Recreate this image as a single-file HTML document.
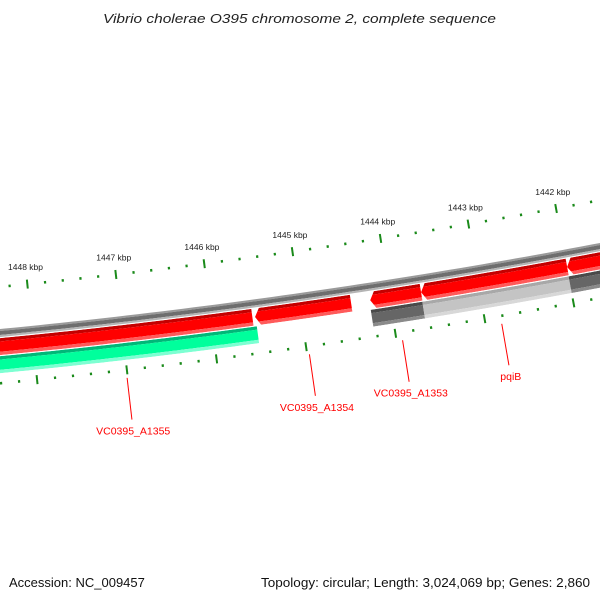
<!DOCTYPE html>
<html><head><meta charset="utf-8"><style>
html,body{margin:0;padding:0;background:#fff;}
svg{display:block;font-family:"Liberation Sans","DejaVu Sans",sans-serif;}
</style></head><body>
<svg id="chart" width="600" height="600" viewBox="0 0 600 600">
<text x="103" y="23" textLength="393" lengthAdjust="spacingAndGlyphs" font-size="13" font-style="italic" fill="#222">Vibrio cholerae O395 chromosome 2, complete sequence</text>
<text x="9" y="587" font-size="13" fill="#111">Accession: NC_009457</text>
<text x="261" y="587" textLength="329" lengthAdjust="spacingAndGlyphs" font-size="13" fill="#111">Topology: circular; Length: 3,024,069 bp; Genes: 2,860</text>
<defs id="defs"></defs>
<g id="plot"></g>
</svg>
<script>
// data (kbp positions)
const majorTicks = [1448, 1447, 1446, 1445, 1444, 1443, 1442];
const tickLabels = ["1448 kbp","1447 kbp","1446 kbp","1445 kbp","1444 kbp","1443 kbp","1442 kbp"];
const geneNames = ["VC0395_A1355","VC0395_A1354","VC0395_A1353","pqiB","next-gene"];
const geneStarts = [1448.47, 1445.515, 1444.22, 1443.647, 1441.997];
const geneEnds = [1445.545, 1444.435, 1443.647, 1441.997, 1441.0];
const geneLabelled = [true, true, true, true, false];
const cdsStarts = [1448.47];
const cdsEnds = [1445.51];
const regionStarts = [1444.23, 1443.65, 1442.0];
const regionEnds = [1443.65, 1442.0, 1441.0];
const regionShade = ["dark", "light", "dark"];

const NS = "http://www.w3.org/2000/svg";
const CX = -640, CY = -6268;
const A0 = 0.1015, AK = 0.01352;
function ang(k){ return A0 + (1448 - k) * AK; }
function pt(r, t){ return [CX + r*Math.sin(t), CY + r*Math.cos(t)]; }
const plot = document.getElementById("plot");
const defs = document.getElementById("defs");
function mk(tag, attrs, parent){
  const e = document.createElementNS(NS, tag);
  for (const k in attrs) e.setAttribute(k, attrs[k]);
  (parent||plot).appendChild(e);
  return e;
}
function arcPts(r, t1, t2, n){
  const a=[]; for(let i=0;i<=n;i++){ const t=t1+(t2-t1)*i/n; a.push(pt(r,t)); } return a;
}
function band(r1, r2, t1, t2){
  const a = arcPts(r1,t1,t2,60).concat(arcPts(r2,t2,t1,60));
  return a.map(p=>p[0].toFixed(2)+","+p[1].toFixed(2)).join(" ");
}
const KMIN = 1441.3, KMAX = 1448.8;

// backbone
[[6628,6630,"#9a9a9a"],[6630,6634,"#6e6e6e"],[6634,6636,"#b4b4b4"]].forEach(b=>{
  const e = mk("polygon",{points:band(b[0],b[1],ang(KMAX),ang(KMIN)),fill:b[2]});
  
  
});

// ticks every 200 bp
for (let i = Math.ceil(KMIN*5); i <= Math.floor(KMAX*5); i++){
  const k = i/5, t = ang(k), major = (i % 5 === 0);
  [6586, 6682].forEach(rc=>{
    const h = major ? 4.5 : 1.3;
    const p1 = pt(rc-h,t), p2 = pt(rc+h,t);
    const e = mk("line",{x1:p1[0],y1:p1[1],x2:p2[0],y2:p2[1],stroke:"#1a8a1a","stroke-width":major?2:2.2});
    
    
  });
}
majorTicks.forEach((k,i)=>{
  const p = pt(6568, ang(k));
  const e = mk("text",{x:p[0],y:p[1]+4,"text-anchor":"middle","font-size":"8.5",fill:"#222"});
  e.textContent = tickLabels[i];
  
  
});

let cid = 0;
function feature(k1, k2, r1, r2, bands, arrow, name){
  const t1 = ang(k1), t2 = ang(k2);
  const ts = Math.min(t1,t2), te = Math.max(t1,t2);
  const rm = (r1+r2)/2, d = arrow ? 5/rm : 0;
  const pts = [pt(rm, ts)].concat(arcPts(r1, ts+d, te, 40)).concat(arcPts(r2, te, ts+d, 40));
  const id = "clip"+(cid++);
  const cp = mk("clipPath",{id:id},defs);
  mk("polygon",{points:pts.map(p=>p[0].toFixed(2)+","+p[1].toFixed(2)).join(" ")},cp);
  const g = mk("g",{"clip-path":"url(#"+id+")"});
  
  
  bands.forEach(b=>{
    mk("polygon",{points:band(r1+b[0]*(r2-r1), r1+b[1]*(r2-r1), ts-0.001, te+0.001), fill:b[2]}, g);
  });
}
const redBands = [[0,0.2,"#c40000"],[0.2,0.8,"#ff0000"],[0.8,1,"#ff5a5a"]];
const greenBands = [[0,0.2,"#00b878"],[0.2,0.8,"#00ff9c"],[0.8,1,"#7dffd2"]];
geneStarts.forEach((s,i)=>{
  feature(s, geneEnds[i], 6637, 6654, redBands, true, 'gene-'+geneNames[i].toLowerCase().replace(/_/g,'-'));
});
cdsStarts.forEach((s,i)=>{
  feature(s, cdsEnds[i], 6655, 6672, greenBands, false, 'cds-feature');
});
regionStarts.forEach((s,i)=>{
  const bands = regionShade[i]==="dark"
    ? [[0,0.2,"#4a4a4a"],[0.2,0.8,"#666666"],[0.8,1,"#8a8a8a"]]
    : [[0,0.2,"#a8a8a8"],[0.2,0.8,"#c4c4c4"],[0.8,1,"#d8d8d8"]];
  feature(s, regionEnds[i], 6655, 6672, bands, false, 'gray-region');
});

// labels
geneStarts.forEach((s,i)=>{
  if (!geneLabelled[i]) return;
  const t = ang((s + geneEnds[i])/2);
  const p1 = pt(6690,t), p2 = pt(6732,t), p3 = pt(6743,t);
  const l = mk("line",{x1:p1[0],y1:p1[1],x2:p2[0],y2:p2[1],stroke:"#ff0000","stroke-width":1});
  
  
  const tx = mk("text",{x:p3[0],y:p3[1]+4,"text-anchor":"middle","font-size":"10.5",fill:"#ff0000"});
  tx.textContent = geneNames[i];
  
  
});
</script>
</body></html>
